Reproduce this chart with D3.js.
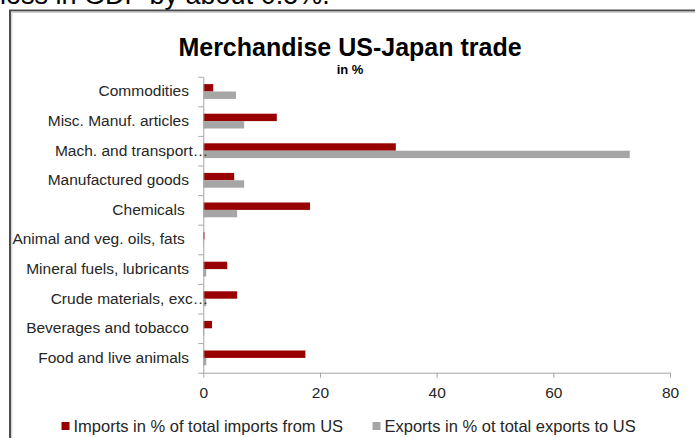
<!DOCTYPE html>
<html>
<head>
<meta charset="utf-8">
<script src="https://cdn.jsdelivr.net/npm/d3@7"></script>
<style>
  html, body { margin: 0; padding: 0; background: #ffffff; }
  svg { display: block; font-family: "Liberation Sans", Arial, sans-serif; }
</style>
</head>
<body>
<svg id="chart" width="695" height="438"></svg>
<script>
// Product groups, listed top to bottom
const categories = [
  "Commodities",
  "Misc. Manuf. articles",
  "Mach. and transport…",
  "Manufactured goods",
  "Chemicals ",
  "Animal and veg. oils, fats ",
  "Mineral fuels, lubricants",
  "Crude materials, exc…",
  "Beverages and tobacco",
  "Food and live animals"
];
// Share of total imports from the US (%)
const importsShare = [1.7, 12.6, 33.0, 5.3, 18.3, 0.2, 4.1, 5.8, 1.5, 17.5];
// Share of total exports to the US (%)
const exportsShare = [5.6, 7.0, 73.1, 7.0, 5.8, 0.1, 0.5, 0.5, 0.15, 0.5];
const xTicks = [0, 20, 40, 60, 80];
const seriesNames = ["Imports in % of total imports from US", "Exports in % ot total exports to US"];
const seriesColors = ["#990000", "#a6a6a6"];

const svg = d3.select("#chart");

// Text running above the chart box
svg.append("text")
  .attr("x", 0).attr("y", 4)
  .attr("font-size", 27).attr("fill", "#000")
  .text("loss in GDP by about 0.5%.");

// Chart box edges (top and left)
svg.append("path")
  .attr("d", "M10,700 V10.5 H700")
  .attr("fill", "none").attr("stroke", "#4d4d4d").attr("stroke-width", 2);
svg.append("path")
  .attr("d", "M11.8,700 V12.3 H700")
  .attr("fill", "none").attr("stroke", "#c8c8c8").attr("stroke-width", 1);

// Titles
svg.append("text")
  .attr("x", 350).attr("y", 56.3)
  .attr("text-anchor", "middle")
  .attr("font-size", 25).attr("font-weight", "bold").attr("fill", "#000")
  .text("Merchandise US-Japan trade");
svg.append("text")
  .attr("x", 350).attr("y", 74)
  .attr("text-anchor", "middle")
  .attr("font-size", 13).attr("font-weight", "bold").attr("fill", "#000")
  .text("in %");

// Scales
const plot = { left: 203.3, right: 670, top: 76.7, bottom: 372.7 };
const x = d3.scaleLinear().domain([0, 80]).range([plot.left, plot.right]);
const y = d3.scaleBand().domain(categories).range([plot.top, plot.bottom]).padding(0);
const sub = d3.scaleBand().domain([0, 1])
  .range([y.bandwidth() * 0.25, y.bandwidth() * 0.75]).padding(0);
const idx = d3.scaleLinear().domain([0, categories.length]).range([plot.top, plot.bottom]);

// Bars
const series = [importsShare, exportsShare];
series.forEach((vals, s) => {
  svg.append("g").selectAll("rect")
    .data(vals)
    .join("rect")
    .attr("x", x(0))
    .attr("y", (d, i) => y(categories[i]) + sub(s))
    .attr("width", d => x(d) - x(0))
    .attr("height", sub.bandwidth())
    .attr("fill", seriesColors[s]);
});

// Horizontal value axis
const xAxis = svg.append("g")
  .attr("transform", `translate(0,${plot.bottom})`)
  .call(d3.axisBottom(x).tickValues(xTicks).tickSize(5).tickSizeOuter(0).tickPadding(9));
xAxis.select(".domain").attr("stroke", "#a6a6a6");
xAxis.selectAll(".tick line").attr("stroke", "#a6a6a6");
xAxis.selectAll(".tick text")
  .attr("font-size", 15.5).attr("fill", "#262626")
  .attr("font-family", "Liberation Sans, Arial, sans-serif");

// Category axis: line with tick marks between categories
const yAxisMarks = svg.append("g")
  .attr("transform", `translate(${plot.left},0)`)
  .call(d3.axisLeft(idx).ticks(categories.length).tickFormat("").tickSize(5).tickSizeOuter(0));
yAxisMarks.select(".domain").attr("stroke", "#a6a6a6");
yAxisMarks.selectAll(".tick line").attr("stroke", "#a6a6a6");

// Category labels
const yAxisLabels = svg.append("g")
  .attr("transform", `translate(${plot.left},0)`)
  .call(d3.axisLeft(y).tickSize(0).tickPadding(14.3));
yAxisLabels.select(".domain").remove();
yAxisLabels.selectAll(".tick text")
  .attr("font-size", 15.5).attr("fill", "#262626")
  .attr("font-family", "Liberation Sans, Arial, sans-serif")
  .style("white-space", "pre")
  .attr("x", d => d.endsWith("…") ? 5 : -14.3);

// Legend
const legendX = [61.5, 372.5];
const legend = svg.append("g");
seriesNames.forEach((name, s) => {
  legend.append("rect")
    .attr("x", legendX[s]).attr("y", 422)
    .attr("width", 8).attr("height", 8)
    .attr("fill", seriesColors[s]);
  legend.append("text")
    .attr("x", legendX[s] + 12).attr("y", 431.5)
    .attr("font-size", 16.5).attr("fill", "#262626")
    .text(name);
});
</script>
</body>
</html>
